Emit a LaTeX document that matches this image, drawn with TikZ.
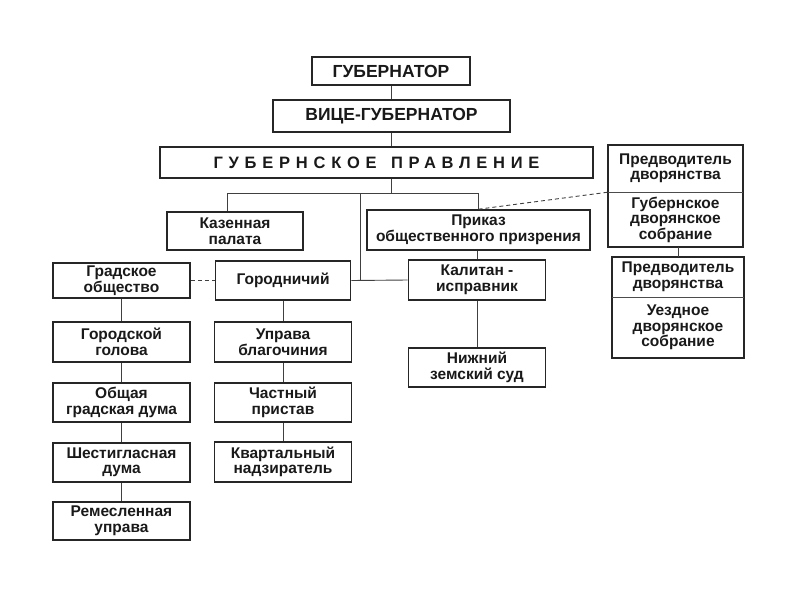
\documentclass[tikz,border=0pt]{standalone}
\usepackage{fontspec}
\setmainfont{Liberation Sans}
\usepackage{tikz}

\begin{document}
\begin{tikzpicture}[x=1pt,y=1pt,yscale=-1,xscale=1,
  box/.style={draw=black!85, line width=1.6pt, align=center, inner sep=0pt, text=black!90, font=\bfseries\fontsize{15.5}{15.5}\selectfont},
  head/.style={box, font=\bfseries\fontsize{17.5}{18}\selectfont},
  half/.style={align=center, inner sep=0pt, text=black!90, minimum width=135, font=\bfseries\fontsize{15.5}{15.5}\selectfont},
  frame/.style={draw=black!85, line width=1.6pt},
  divider/.style={draw=black!70, line width=0.7pt},
  link/.style={draw=black!75, line width=0.9pt},
  dashlink/.style={link, dash pattern=on 4pt off 3pt}]
\useasboundingbox (0,0) rectangle (800,600);

% Text Node
\node[head, minimum width=158, minimum height=28] (gub) at (391,71) {ГУБЕРНАТОР};
% Text Node
\node[head, minimum width=237, minimum height=32] (vice) at (391.5,116) {ВИЦЕ-ГУБЕРНАТОР};
% Text Node
\node[head, minimum width=433, minimum height=31, font=\bfseries\fontsize{16.5}{18}\selectfont\addfontfeature{LetterSpace=35}] (board) at (376.5,162.5) {ГУБЕРНСКОЕ\hspace{4pt} ПРАВЛЕНИЕ};
% Text Node
\node[box, minimum width=136, minimum height=38] (kaz) at (235,231) {Казенная\\палата};
% Text Node
\node[box, minimum width=223, minimum height=40] (prikaz) at (478.5,230) {Приказ\\общественного призрения};
% Text Node
\node[box, minimum width=137, minimum height=35] (grad) at (121.5,280.5) {Градское\\общество};
% Text Node
\node[box, minimum width=135, minimum height=39] (gorodn) at (283,280.5) {Городничий};
% Text Node
\node[box, minimum width=137, minimum height=40] (kapit) at (477,280) {Калитан -\\исправник};
% Text Node
\node[box, minimum width=137, minimum height=40] (golova) at (121.5,342) {Городской\\голова};
% Text Node
\node[box, minimum width=137, minimum height=39] (obdum) at (121.5,402.5) {Общая\\градская дума};
% Text Node
\node[box, minimum width=137, minimum height=39] (shest) at (121.5,462.5) {Шестигласная\\дума};
% Text Node
\node[box, minimum width=137, minimum height=38] (remes) at (121.5,521) {Ремесленная\\управа};
% Text Node
\node[box, minimum width=137, minimum height=40] (uprava) at (283,342) {Управа\\благочиния};
% Text Node
\node[box, minimum width=137, minimum height=39] (chast) at (283,402.5) {Частный\\пристав};
% Text Node
\node[box, minimum width=137, minimum height=40] (kvart) at (283,462) {Квартальный\\надзиратель};
% Text Node
\node[box, minimum width=137, minimum height=39] (nizh) at (477,367.5) {Нижний\\земский суд};
% Text Node
\node[half, minimum height=47] (gpred) at (675.5,168.5) {Предводитель\\дворянства};
% Text Node
\node[half, minimum height=55] (gsob) at (675.5,219.5) {Губернское\\дворянское\\собрание};
% Text Node
\node[half, minimum width=132, minimum height=40] (upred) at (678,277) {Предводитель\\дворянства};
% Text Node
\node[half, minimum width=132, minimum height=61] (usob) at (678,327.5) {Уездное\\дворянское\\собрание};

%Shape: Rectangle
\draw[frame] (gpred.north west) rectangle (gsob.south east);
\draw[divider] (gpred.south west) -- (gpred.south east);
%Shape: Rectangle
\draw[frame] (upred.north west) rectangle (usob.south east);
\draw[divider] (upred.south west) -- (upred.south east);

\coordinate (fork) at (391,193);
\coordinate (split) at (360,193);

%Straight Lines
\draw[link] (gub.south) -- (gub.south |- vice.north);
%Straight Lines
\draw[link] (gub.south |- vice.south) -- (gub.south |- board.north);
%Straight Lines
\draw[link] (gub.south |- board.south) -- (fork);
%Straight Lines
\draw[link] ([xshift=-8pt]kaz.north) -- ([xshift=-8pt]kaz.north |- fork) -- (prikaz.north |- fork) -- (prikaz.north);
%Straight Lines
\draw[link] (split) -- (split |- kapit.west);
%Straight Lines
\draw[link] (gorodn.east) -- (kapit.west);
%Straight Lines
\draw[link] (kapit.north |- prikaz.south) -- (kapit.north);
%Straight Lines
\draw[link] (kapit.south) -- (nizh.north);
%Straight Lines
\draw[link] (grad.south) -- (golova.north);
\draw[link] (golova.south) -- (obdum.north);
\draw[link] (obdum.south) -- (shest.north);
\draw[link] (shest.south) -- (remes.north);
%Straight Lines
\draw[link] (gorodn.south) -- (uprava.north);
\draw[link] (uprava.south) -- (chast.north);
\draw[link] (chast.south) -- (kvart.north);
%Straight Lines
\draw[link] (upred.north |- gsob.south) -- (upred.north);
%Dashed Lines
\draw[dashlink] (grad.east) -- (gorodn.west);
\draw[dashlink] (prikaz.north) -- (gpred.south west);
\end{tikzpicture}
\end{document}
